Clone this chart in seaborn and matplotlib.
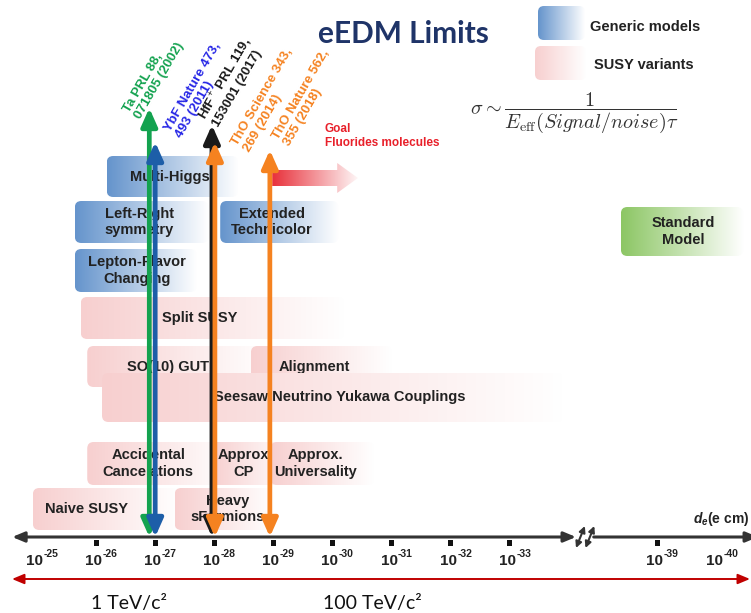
import numpy as np
import seaborn as sns
import matplotlib.pyplot as plt
from matplotlib.colors import LinearSegmentedColormap
from matplotlib.patches import FancyBboxPatch, Polygon

# d_e axis: -log10(d_e / e cm); the axis is broken between 10^-33 and 10^-39
tick_exp = [25, 26, 27, 28, 29, 30, 31, 32, 33, 39, 40]
tick_pos = [25, 26, 27, 28, 29, 30, 31, 32, 33, 35.5, 36.5]
dot_pos = [26, 27, 28, 29, 30, 31, 32, 33, 35.5]

# experimental limits
exp_labels = ["Ta PRL 88,\n071805 (2002)", "YbF Nature 473,\n493 (2011)",
              "HfF$^+$ PRL 119,\n153001 (2017)", "ThO Science 343,\n269 (2014)",
              "ThO Nature 562,\n355 (2018)"]
exp_limit = [26.9, 27.0, 27.96, 28.01, 28.94]
exp_color = ["#13a24f", "#1d5ea8", "#1a1a1a", "#f58220", "#f58220"]
exp_text_color = ["#13a24f", "#2626e6", "#1a1a1a", "#f58220", "#f58220"]

# model predictions (range of -log10 d_e covered)
model_names = ["Multi-Higgs", "Left-Right\nsymmetry", "Extended\nTechnicolor",
               "Lepton-Flavor\nChanging", "Split SUSY", "SO(10) GUT", "Alignment",
               "Seesaw Neutrino Yukawa Couplings", "Accidental\nCancelations",
               "Approx\nCP", "Approx.\nUniversality", "Naive SUSY",
               "Heavy\nsFermions", "Standard\nModel"]
model_kind = ["generic", "generic", "generic", "generic", "susy", "susy", "susy",
              "susy", "susy", "susy", "susy", "susy", "susy", "sm"]
model_lo = [26.18, 25.64, 28.10, 25.64, 25.74, 25.85, 28.62, 26.10, 25.85,
            27.95, 28.95, 24.93, 27.33, 34.88]
model_hi = [28.40, 27.90, 30.10, 27.70, 30.20, 28.90, 31.00, 33.90, 28.30,
            29.30, 30.70, 27.40, 29.00, 36.95]

# layout (pixels from top)
box_top = [156, 201, 201, 249, 297, 346, 346, 373, 442, 442, 442, 488, 488, 207]
box_h = [41, 42, 42, 43, 42, 41, 41, 49, 43, 43, 43, 42, 42, 49]
text_x = [27.25, 26.73, 28.98, 26.69, 27.76, 27.22, 29.70, 30.13, 26.88, 28.49,
          29.72, 25.83, 28.23, 35.93]
arrow_top = [108, 142, 125, 142, 150]
label_dx = [-0.11, 0.48, 0.15, 0.62, 0.37]
label_y = [121, 140, 129, 154, 148]

kind_color = {"generic": "#6594cc", "susy": "#f7cfcf", "sm": "#8cc664"}

PX = 59.1  # pixels per decade
X0 = 37    # pixel of 10^-25
AX_Y = 537

sns.set_theme(style="white")
plt.rcParams["font.family"] = ["Liberation Sans", "DejaVu Sans"]
plt.rcParams["mathtext.fontset"] = "custom"
plt.rcParams["mathtext.rm"] = "Liberation Sans"
plt.rcParams["mathtext.bf"] = "Liberation Sans:bold"
plt.rcParams["mathtext.it"] = "Liberation Sans:italic:bold"

fig = plt.figure(figsize=(7.51, 6.13), dpi=100)
ax = fig.add_axes([0, 0, 1, 1])
ov = fig.add_axes([0, 0, 1, 1])
ov.patch.set_alpha(0)


def grad_box(a, x0, x1, y0, y1, color, r, aspect, z=1):
    patch = FancyBboxPatch((x0, y0), x1 - x0, y1 - y0,
                           boxstyle=f"round,pad=0,rounding_size={r}",
                           mutation_aspect=aspect, fc="none", ec="none", zorder=z)
    a.add_patch(patch)
    cmap = LinearSegmentedColormap.from_list("g", [color, "white"])
    img = a.imshow(np.linspace(0, 1, 256)[None, :], cmap=cmap, aspect="auto",
                   extent=[x0, x1, y1, y0], interpolation="bilinear", zorder=z)
    img.set_clip_path(patch)


# model boxes
for i, name in enumerate(model_names):
    grad_box(ax, model_lo[i], model_hi[i], box_top[i], box_top[i] + box_h[i],
             kind_color[model_kind[i]], 0.11, PX, z=1 + i * 0.01)
    ax.text(text_x[i], box_top[i] + box_h[i] / 2, name, ha="center", va="center",
            fontsize=10.5, fontweight="bold", color="#222222", linespacing=1.2,
            zorder=1 + i * 0.01 + 0.005)

# goal arrow (fluoride molecules)
goal = Polygon([(28.98, 170), (30.08, 170), (30.08, 163), (30.43, 178),
                (30.08, 193), (30.08, 186), (28.98, 186)], closed=True,
               fc="none", ec="none")
ax.add_patch(goal)
gimg = ax.imshow(np.linspace(0, 1, 256)[None, :],
                 cmap=LinearSegmentedColormap.from_list("r", ["#e8303a", "white"]),
                 aspect="auto", extent=[28.98, 30.5, 195, 160],
                 interpolation="bilinear", zorder=2)
gimg.set_clip_path(goal)
ax.text(29.87, 136, "Goal\nFluorides molecules", ha="left", va="center",
        fontsize=8.5, fontweight="bold", color="#e8202a", linespacing=1.2)

# horizontal d_e axis with break
ax.annotate("", xy=(24.58, AX_Y), xytext=(34.12, AX_Y),
            arrowprops=dict(arrowstyle="<|-|>,head_length=0.6,head_width=0.25",
                            lw=2.2, color="#333333", shrinkA=0, shrinkB=0))
ax.annotate("", xy=(34.42, AX_Y), xytext=(37.2, AX_Y),
            arrowprops=dict(arrowstyle="<|-,head_length=0.6,head_width=0.25",
                            lw=2.2, color="#333333", shrinkA=0, shrinkB=0))
for sx in [34.12, 34.28]:
    ax.annotate("", xy=(sx, 548), xytext=(sx + 0.15, 526),
                arrowprops=dict(arrowstyle="<|-|>,head_length=0.3,head_width=0.15",
                                lw=1.5, color="#333333", shrinkA=0, shrinkB=0))

sns.scatterplot(x=dot_pos, y=[543] * len(dot_pos), marker="s", s=14,
                color="#111111", edgecolor="none", ax=ax, zorder=5)
for p, e in zip(tick_pos, tick_exp):
    ax.text(p + 0.1, 561, "10", ha="right", va="center", fontsize=11,
            fontweight="bold", color="#222222")
    ax.text(p + 0.11, 554, "-%d" % e, ha="left", va="center", fontsize=7.5,
            fontweight="bold", color="#222222")
ax.text(37.05, 519, r"$d_e$(e cm)", ha="right", va="center", fontsize=10,
        fontweight="bold", color="#222222")

# experimental limit arrows
for i in range(len(exp_limit)):
    ax.annotate("", xy=(exp_limit[i], AX_Y), xytext=(exp_limit[i], arrow_top[i]),
                arrowprops=dict(arrowstyle="<|-|>,head_length=0.9,head_width=0.4",
                                lw=3.4, color=exp_color[i], shrinkA=0, shrinkB=0,
                                mutation_scale=12), zorder=10)
    ax.text(exp_limit[i] + label_dx[i], label_y[i], exp_labels[i], rotation=60,
            rotation_mode="anchor", ha="left", va="bottom", fontsize=9.5,
            fontweight="bold", color=exp_text_color[i], linespacing=1.1, zorder=11)

ax.set_xlim(25 - X0 / PX, 25 + (751 - X0) / PX)
ax.set_ylim(613, 0)
ax.axis("off")

# pixel-space decorations: title, legend, formula, mass scale
ov.annotate("", xy=(12, 579), xytext=(750, 579),
            arrowprops=dict(arrowstyle="<|-|>,head_length=0.6,head_width=0.25",
                            lw=1.4, color="#c00000", shrinkA=0, shrinkB=0))
ov.text(129, 603, "1 TeV/c²", ha="center", va="center", fontsize=14,
        family="Lato", color="#111111")
ov.text(372, 603, "100 TeV/c²", ha="center", va="center", fontsize=14,
        family="Lato", color="#111111")
ov.text(403, 34, "eEDM Limits", ha="center", va="center", fontsize=21.5,
        family="Lato", fontweight="bold", color="#1f3468")
grad_box(ov, 538, 585, 6, 40, kind_color["generic"], 6, 1)
grad_box(ov, 535, 586, 46, 80, kind_color["susy"], 6, 1)
ov.text(590, 27, "Generic models", ha="left", va="center", fontsize=10.5,
        fontweight="bold", color="#222222")
ov.text(594, 65, "SUSY variants", ha="left", va="center", fontsize=10.5,
        fontweight="bold", color="#222222")
ov.text(574, 113, r"$\sigma \sim \dfrac{1}{E_{\mathrm{eff}}(Signal/noise)\tau}$",
        ha="center", va="center", fontsize=14.5, math_fontfamily="cm", color="#333333")
ov.set_xlim(0, 751)
ov.set_ylim(613, 0)
ov.axis("off")

fig.savefig("out.png", dpi=100)
